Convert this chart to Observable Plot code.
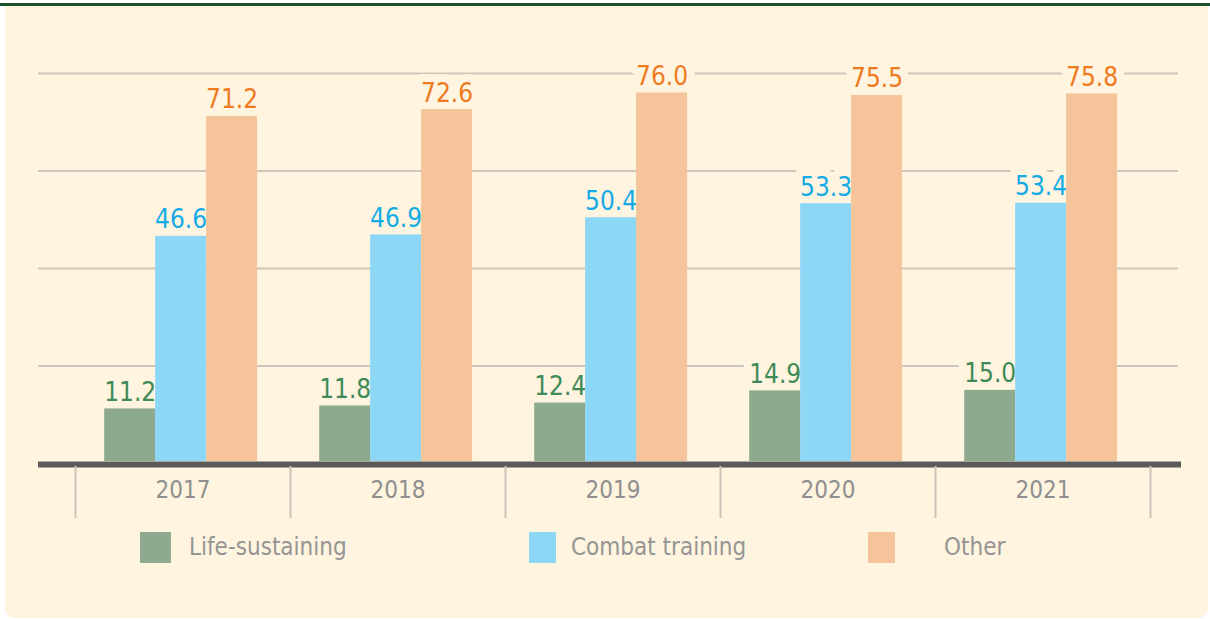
<!DOCTYPE html>
<html>
<head>
<meta charset="utf-8">
<script src="https://cdn.jsdelivr.net/npm/d3@7"></script>
<script src="https://cdn.jsdelivr.net/npm/@observablehq/plot@0.6"></script>
<style>
  html, body { margin: 0; padding: 0; background: #ffffff; }
  #root { position: relative; width: 1210px; height: 619px; overflow: hidden;
          font-family: "DejaVu Sans Condensed", "DejaVu Sans", sans-serif; }
  #topline { position: absolute; left: 0; top: 3px; width: 1210px; height: 3px; background: #1c5230; }
  #panel { position: absolute; left: 5px; top: 6px; width: 1203px; height: 612px;
           background: #fef4df; border-radius: 0 0 9px 9px; }
  .layer { position: absolute; left: 0; top: 0; }
  .lg-sw { position: absolute; top: 532px; height: 31px; }
  .lg-tx { position: absolute; top: 532px; height: 31px; line-height: 31px;
           font-size: 24px; color: #959595; white-space: nowrap; }
</style>
</head>
<body>
<div id="root">
  <div id="topline"></div>
  <div id="panel"></div>
  <div id="layerA" class="layer"></div>
  <div id="layerB" class="layer"></div>
  <div id="layerD" class="layer"></div>
  <div id="legend"></div>
</div>
<script>
// ---------- data ----------
const years = ["2017", "2018", "2019", "2020", "2021"];
const series = ["Life-sustaining", "Combat training", "Other"];
const lifeSustaining = [11.2, 11.8, 12.4, 14.9, 15.0];
const combatTraining = [46.6, 46.9, 50.4, 53.3, 53.4];
const other = [71.2, 72.6, 76.0, 75.5, 75.8];
const gridTicks = [20, 40, 60, 80];
const yDomain = [0, 80];
const barColors = ["#8daa8f", "#8cd6f6", "#f6c49a"];
const labelColors = ["#3f8a58", "#14abe6", "#ee7b1f"];

// ---------- styling ----------
const cream = "#fef4df";
const font = "'DejaVu Sans Condensed', 'DejaVu Sans', sans-serif";
const W = 1210, H = 530, MT = 73, MB = 67;

const values = [lifeSustaining, combatTraining, other];
const data = years.flatMap((year, i) =>
  series.map((s, j) => ({year, series: s, value: values[j][i]})));
const fmt = d3.format(".1f");

// Layer A: gridlines + baseline
const plotA = Plot.plot({
  width: W, height: H, marginTop: MT, marginBottom: MB, marginLeft: 38, marginRight: 29,
  style: {background: "transparent", overflow: "visible", fontFamily: font},
  y: {domain: yDomain, axis: null},
  marks: [
    Plot.ruleY(gridTicks, {stroke: "#ccc7bc", strokeWidth: 2, insetRight: 3}),
    Plot.ruleY([0], {stroke: "#5a5a5a", strokeWidth: 6, dy: 1})
  ]
});
document.getElementById("layerA").appendChild(plotA);

// Layer B: bars, value labels, year labels
const plotB = Plot.plot({
  width: W, height: H, marginTop: MT, marginBottom: MB, marginLeft: 75, marginRight: 60,
  style: {background: "transparent", overflow: "visible", fontFamily: font},
  fx: {domain: years, padding: 0, round: false},
  x: {domain: series, paddingInner: 0, paddingOuter: 0.61, align: 0.47, round: false, axis: null},
  y: {domain: yDomain, axis: null},
  color: {domain: series, range: barColors},
  marks: [
    ...series.map((s, j) => Plot.text(data.filter(d => d.series === s), {
      fx: "year", x: "series", y: "value", text: d => fmt(d.value),
      fill: labelColors[j], stroke: cream, strokeWidth: 16, paintOrder: "stroke",
      fontSize: 26, lineAnchor: "bottom", dy: -8
    })),
    Plot.barY(data, {fx: "year", x: "series", y: "value", fill: "series", insetBottom: 2}),
    Plot.axisFx({anchor: "bottom", tickSize: 0, tickPadding: 17, fontSize: 24,
                 color: "#8f8f8f", label: null})
  ]
});
document.getElementById("layerB").appendChild(plotB);

// Layer D: category separators below the baseline
const boundaries = years.map(y => +y - 0.5).concat(+years[years.length - 1] + 0.5);
const plotD = Plot.plot({
  width: W, height: H, marginTop: 466, marginBottom: 12, marginLeft: 75, marginRight: 60,
  style: {background: "transparent", overflow: "visible", fontFamily: font},
  x: {domain: [boundaries[0], boundaries[boundaries.length - 1]], axis: null},
  y: {axis: null},
  marks: [
    Plot.ruleX(boundaries, {stroke: "#cac4b8", strokeWidth: 2})
  ]
});
document.getElementById("layerD").appendChild(plotD);

// Legend (HTML)
const legend = document.getElementById("legend");
const swatchLeft = [140, 529, 868];
const swatchWidth = [31, 27, 27];
const textLeft = [189, 571, 944];
series.forEach((s, j) => {
  const sw = document.createElement("div");
  sw.className = "lg-sw";
  sw.style.left = swatchLeft[j] + "px";
  sw.style.width = swatchWidth[j] + "px";
  sw.style.background = barColors[j];
  legend.appendChild(sw);
  const tx = document.createElement("div");
  tx.className = "lg-tx";
  tx.style.left = textLeft[j] + "px";
  tx.textContent = s;
  legend.appendChild(tx);
});
</script>
</body>
</html>
